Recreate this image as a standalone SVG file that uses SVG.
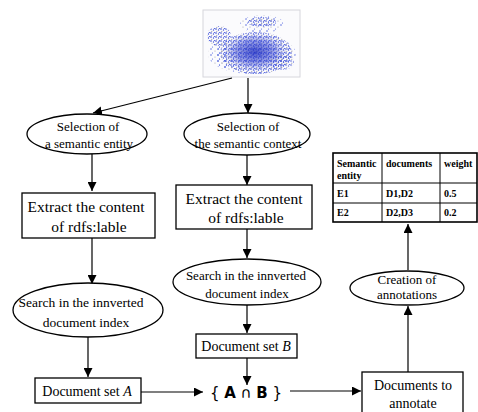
<svg xmlns="http://www.w3.org/2000/svg" width="478" height="412" viewBox="0 0 478 412">
<style>
text{font-family:"Liberation Serif","Times New Roman",serif;fill:#000}
.t{font-size:15.5px;text-anchor:middle}
.s{font-size:13px;text-anchor:middle}
.m{font-size:14px;text-anchor:middle}
.tb{font-size:10px;font-weight:bold}
.n{fill:#fff;stroke:#000;stroke-width:1.3}
.c{fill:none;stroke:#000;stroke-width:1.2}
</style>
<defs>
<marker id="ah" markerUnits="userSpaceOnUse" markerWidth="9" markerHeight="9" viewBox="0 0 10 10" refX="10" refY="5" orient="auto">
<path d="M0,0 L10,5 L0,10 z" fill="#000"/>
</marker>
<pattern id="dots" width="5" height="4" patternUnits="userSpaceOnUse">
<circle cx="1" cy="1" r="0.8" fill="#2a3fd0"/>
<circle cx="3.5" cy="2" r="0.7" fill="#3a4ad8"/>
<circle cx="1.8" cy="3.3" r="0.6" fill="#9a9aa8"/>
<circle cx="4.4" cy="0.4" r="0.6" fill="#5566e0"/>
</pattern>
<pattern id="dots2" width="7" height="6" patternUnits="userSpaceOnUse">
<circle cx="1" cy="1" r="0.7" fill="#3a4fd8"/>
<circle cx="5" cy="3" r="0.6" fill="#a0a0b0"/>
<circle cx="2.5" cy="5" r="0.6" fill="#5566e0"/>
</pattern>
<radialGradient id="core" cx="0.5" cy="0.5" r="0.5">
<stop offset="0" stop-color="#1a2ac0" stop-opacity="0.8"/>
<stop offset="0.6" stop-color="#2a3ad0" stop-opacity="0.45"/>
<stop offset="1" stop-color="#6a76e0" stop-opacity="0"/>
</radialGradient>
</defs>

<g id="scatter">
<rect x="203" y="10" width="97" height="67" fill="#fbfbfd" stroke="#d6d6dc" stroke-width="1"/>
<ellipse cx="252" cy="54" rx="44" ry="20" fill="url(#dots2)"/>
<ellipse cx="256" cy="53" rx="36" ry="21" fill="url(#dots)"/>
<ellipse cx="255" cy="52" rx="32" ry="19" fill="url(#core)"/>
<ellipse cx="262" cy="24" rx="22" ry="9" fill="url(#dots2)"/>
<ellipse cx="262" cy="22" rx="14" ry="5" fill="url(#dots)"/>
<ellipse cx="219" cy="36" rx="12" ry="10" fill="url(#dots)"/>
<ellipse cx="226" cy="56" rx="10" ry="13" fill="url(#dots2)"/>
<ellipse cx="282" cy="62" rx="12" ry="8" fill="url(#dots)" opacity="0.8"/>
</g>

<g id="connectors">
<line class="c" x1="232" y1="78" x2="93" y2="113" marker-end="url(#ah)"/>
<line class="c" x1="248" y1="78" x2="248" y2="113" marker-end="url(#ah)"/>
<line class="c" x1="92" y1="154" x2="92" y2="191" marker-end="url(#ah)"/>
<line class="c" x1="247" y1="155" x2="247" y2="185" marker-end="url(#ah)"/>
<line class="c" x1="92" y1="238" x2="92" y2="284" stroke="#555" marker-end="url(#ah)"/>
<line class="c" x1="247" y1="229" x2="247" y2="258" marker-end="url(#ah)"/>
<line class="c" x1="247" y1="305" x2="247" y2="333" marker-end="url(#ah)"/>
<line class="c" x1="88" y1="337" x2="88" y2="377" marker-end="url(#ah)"/>
<line class="c" x1="247" y1="358" x2="247" y2="385" marker-end="url(#ah)"/>
<line class="c" x1="141" y1="392" x2="203" y2="392" marker-end="url(#ah)"/>
<line class="c" x1="290" y1="391" x2="361" y2="391" marker-end="url(#ah)"/>
<line class="c" x1="408" y1="372" x2="408" y2="306" marker-end="url(#ah)"/>
<line class="c" x1="408" y1="270" x2="408" y2="224" marker-end="url(#ah)"/>
</g>

<g id="sel-entity">
<ellipse class="n" cx="87" cy="134" rx="60" ry="20"/>
<text class="s" x="88" y="131">Selection of</text>
<text class="s" x="89" y="148">a semantic entity</text>
</g>
<g id="sel-context">
<ellipse class="n" cx="247" cy="134" rx="63" ry="21"/>
<text class="s" x="248" y="131">Selection of</text>
<text class="s" x="248" y="148">the semantic context</text>
</g>

<g id="extract-left">
<rect class="n" x="22" y="193" width="133" height="45"/>
<text class="t" x="86" y="212">Extract the content</text>
<text class="t" x="89" y="232">of rdfs:lable</text>
</g>
<g id="extract-right">
<rect class="n" x="176" y="185" width="136" height="44"/>
<text class="t" x="244" y="204">Extract the content</text>
<text class="t" x="246" y="223">of rdfs:lable</text>
</g>

<g id="search-left">
<ellipse class="n" cx="88" cy="310" rx="75" ry="27"/>
<text x="81" y="307" font-size="13.5" text-anchor="middle">Search in the innverted</text>
<text x="86" y="327" font-size="13.5" text-anchor="middle">document index</text>
</g>
<g id="search-right">
<ellipse class="n" cx="247" cy="282" rx="74" ry="23"/>
<text class="s" x="246" y="280">Search in the innverted</text>
<text class="s" x="247" y="298">document index</text>
</g>

<g id="doc-b">
<rect class="n" x="196" y="334" width="101" height="24"/>
<text class="m" x="246" y="351">Document set <tspan font-style="italic">B</tspan></text>
</g>
<g id="doc-a">
<rect class="n" x="35" y="378" width="106" height="25"/>
<text class="m" x="87" y="396">Document set <tspan font-style="italic">A</tspan></text>
</g>

<g id="intersection">
<text x="246" y="398" font-size="15" text-anchor="middle" style="font-family:'DejaVu Sans','Liberation Sans',sans-serif">{ <tspan font-weight="bold">A</tspan> ∩ <tspan font-weight="bold">B</tspan> }</text>
</g>

<g id="docs-annotate">
<rect class="n" x="362" y="372" width="101" height="42"/>
<text class="m" x="413" y="390">Documents to</text>
<text class="m" x="413" y="408">annotate</text>
</g>

<g id="creation">
<ellipse class="n" cx="407" cy="288" rx="57" ry="17"/>
<text class="s" x="407" y="284">Creation of</text>
<text class="s" x="407" y="299">annotations</text>
</g>

<g id="table">
<rect x="333" y="153" width="144" height="69" fill="#fff" stroke="#000" stroke-width="1.6"/>
<line x1="333" y1="183" x2="477" y2="183" stroke="#000" stroke-width="1"/>
<line x1="333" y1="203" x2="477" y2="203" stroke="#000" stroke-width="1"/>
<line x1="382" y1="153" x2="382" y2="222" stroke="#000" stroke-width="1"/>
<line x1="440" y1="153" x2="440" y2="222" stroke="#000" stroke-width="1"/>
<text class="tb" x="337" y="167">Semantic</text>
<text class="tb" x="337" y="179">entity</text>
<text class="tb" x="386" y="167">documents</text>
<text class="tb" x="444" y="167">weight</text>
<text class="tb" x="337" y="197">E1</text>
<text class="tb" x="386" y="197">D1,D2</text>
<text class="tb" x="444" y="197">0.5</text>
<text class="tb" x="337" y="216">E2</text>
<text class="tb" x="386" y="216">D2,D3</text>
<text class="tb" x="444" y="216">0.2</text>
</g>
</svg>
